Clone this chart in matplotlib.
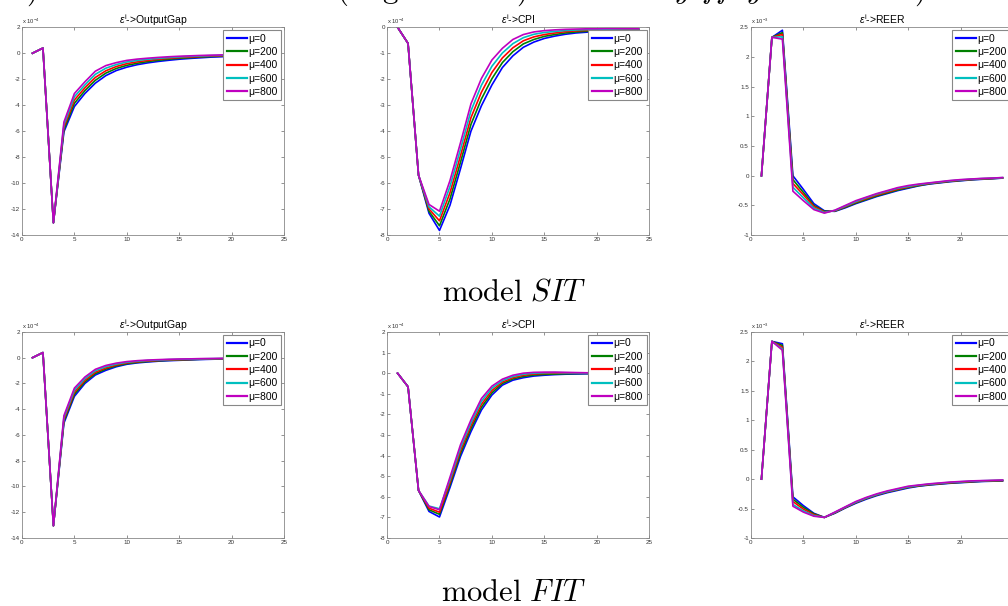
import numpy as np
import matplotlib
matplotlib.use('Agg')
import matplotlib.pyplot as plt

plt.rcParams['font.family'] = ['Liberation Sans', 'DejaVu Sans']
plt.rcParams['axes.unicode_minus'] = False
plt.rcParams['mathtext.fontset'] = 'custom'
plt.rcParams['mathtext.rm'] = 'Liberation Sans'
plt.rcParams['mathtext.it'] = 'Liberation Sans:italic'

periods = np.arange(1, 25)
mu_labels = ['\u03bc=0', '\u03bc=200', '\u03bc=400', '\u03bc=600', '\u03bc=800']
colors = ['b', 'g', 'r', 'c', 'm']

# model SIT, output gap (x 10^-4)
sit_gap = [
    [0, 0.4, -13.05, -6.05, -4.1, -3.1, -2.3, -1.72, -1.33, -1.07, -0.88, -0.74, -0.63, -0.54, -0.46, -0.40, -0.35, -0.30, -0.27, -0.23, -0.20, -0.18, -0.16, -0.14],
    [0, 0.4, -13.05, -5.87, -3.85, -2.88, -2.08, -1.53, -1.17, -0.93, -0.77, -0.64, -0.54, -0.46, -0.39, -0.34, -0.29, -0.25, -0.22, -0.19, -0.17, -0.15, -0.13, -0.12],
    [0, 0.4, -13.05, -5.68, -3.6, -2.66, -1.86, -1.35, -1.02, -0.80, -0.66, -0.55, -0.46, -0.39, -0.33, -0.29, -0.25, -0.21, -0.19, -0.16, -0.14, -0.13, -0.11, -0.10],
    [0, 0.4, -13.05, -5.49, -3.35, -2.44, -1.62, -1.15, -0.87, -0.67, -0.55, -0.46, -0.39, -0.33, -0.28, -0.24, -0.21, -0.18, -0.16, -0.14, -0.12, -0.11, -0.095, -0.085],
    [0, 0.4, -13.05, -5.3, -3.1, -2.2, -1.38, -0.95, -0.72, -0.55, -0.45, -0.38, -0.32, -0.27, -0.23, -0.20, -0.17, -0.15, -0.13, -0.11, -0.10, -0.09, -0.08, -0.07],
]
# model SIT, CPI (x 10^-4)
sit_cpi = [
    [0, -0.62, -5.69, -7.16, -7.82, -6.85, -5.45, -4.0, -3.02, -2.22, -1.55, -1.1, -0.77, -0.57, -0.43, -0.34, -0.27, -0.22, -0.19, -0.16, -0.14, -0.12, -0.11, -0.10],
    [0, -0.62, -5.69, -7.08, -7.64, -6.61, -5.2, -3.74, -2.76, -1.98, -1.36, -0.94, -0.64, -0.47, -0.35, -0.28, -0.22, -0.18, -0.155, -0.13, -0.115, -0.10, -0.09, -0.085],
    [0, -0.62, -5.69, -6.99, -7.45, -6.37, -4.95, -3.48, -2.5, -1.74, -1.18, -0.79, -0.52, -0.37, -0.28, -0.22, -0.17, -0.14, -0.12, -0.105, -0.09, -0.08, -0.075, -0.07],
    [0, -0.62, -5.69, -6.91, -7.27, -6.13, -4.7, -3.22, -2.23, -1.5, -0.99, -0.63, -0.4, -0.27, -0.2, -0.16, -0.125, -0.105, -0.09, -0.08, -0.07, -0.065, -0.06, -0.06],
    [0, -0.62, -5.69, -6.82, -7.08, -5.9, -4.45, -2.95, -1.97, -1.26, -0.81, -0.47, -0.28, -0.18, -0.13, -0.10, -0.08, -0.07, -0.06, -0.06, -0.05, -0.05, -0.05, -0.05],
]
# model SIT, REER (x 10^-3)
sit_reer = [
    [0, 2.33, 2.45, 0.0, -0.23, -0.47, -0.59, -0.60, -0.54, -0.47, -0.41, -0.35, -0.30, -0.25, -0.21, -0.17, -0.14, -0.12, -0.10, -0.085, -0.07, -0.06, -0.05, -0.04],
    [0, 2.33, 2.41, -0.065, -0.28, -0.5, -0.60, -0.595, -0.53, -0.46, -0.40, -0.34, -0.29, -0.24, -0.20, -0.165, -0.135, -0.115, -0.095, -0.08, -0.066, -0.056, -0.048, -0.038],
    [0, 2.33, 2.38, -0.13, -0.32, -0.52, -0.61, -0.59, -0.52, -0.445, -0.385, -0.325, -0.275, -0.225, -0.19, -0.155, -0.13, -0.11, -0.09, -0.075, -0.062, -0.052, -0.045, -0.035],
    [0, 2.33, 2.34, -0.195, -0.37, -0.545, -0.62, -0.585, -0.51, -0.435, -0.37, -0.31, -0.26, -0.21, -0.18, -0.148, -0.125, -0.105, -0.085, -0.07, -0.058, -0.048, -0.042, -0.032],
    [0, 2.33, 2.30, -0.26, -0.42, -0.57, -0.63, -0.58, -0.50, -0.42, -0.36, -0.30, -0.25, -0.20, -0.165, -0.14, -0.12, -0.10, -0.08, -0.065, -0.055, -0.045, -0.04, -0.03],
]
# model FIT, output gap (x 10^-4)
fit_gap = [
    [0, 0.4, -13.05, -5.08, -3.0, -2.0, -1.34, -0.98, -0.70, -0.51, -0.40, -0.33, -0.27, -0.23, -0.20, -0.17, -0.14, -0.12, -0.10, -0.08, -0.07, -0.06, -0.05, -0.04],
    [0, 0.4, -13.05, -4.93, -2.84, -1.87, -1.23, -0.88, -0.63, -0.46, -0.36, -0.29, -0.24, -0.20, -0.175, -0.15, -0.12, -0.105, -0.087, -0.07, -0.061, -0.052, -0.044, -0.035],
    [0, 0.4, -13.05, -4.79, -2.68, -1.75, -1.12, -0.79, -0.56, -0.40, -0.31, -0.255, -0.21, -0.175, -0.15, -0.13, -0.105, -0.09, -0.075, -0.06, -0.052, -0.045, -0.037, -0.03],
    [0, 0.4, -13.05, -4.64, -2.52, -1.62, -1.01, -0.69, -0.49, -0.35, -0.27, -0.215, -0.18, -0.145, -0.125, -0.11, -0.088, -0.075, -0.062, -0.05, -0.043, -0.037, -0.031, -0.025],
    [0, 0.4, -13.05, -4.5, -2.36, -1.5, -0.9, -0.6, -0.42, -0.3, -0.23, -0.18, -0.15, -0.12, -0.10, -0.09, -0.07, -0.06, -0.05, -0.04, -0.035, -0.03, -0.025, -0.02],
]
# model FIT, CPI (x 10^-4)
fit_cpi = [
    [0, -0.66, -5.69, -6.71, -6.98, -5.55, -4.05, -2.84, -1.79, -1.06, -0.58, -0.34, -0.22, -0.14, -0.10, -0.07, -0.05, -0.04, -0.03, -0.03, -0.02, -0.02, -0.02, -0.01],
    [0, -0.66, -5.69, -6.63, -6.85, -5.42, -3.9, -2.69, -1.65, -0.95, -0.50, -0.28, -0.16, -0.09, -0.06, -0.04, -0.03, -0.02, -0.015, -0.01, -0.01, -0.01, -0.005, 0.0],
    [0, -0.66, -5.69, -6.55, -6.75, -5.3, -3.76, -2.55, -1.51, -0.84, -0.43, -0.22, -0.10, -0.04, -0.01, 0.0, 0.0, 0.0, 0.0, 0.0, 0.0, 0.0, 0.0, 0.0],
    [0, -0.66, -5.69, -6.45, -6.58, -5.17, -3.62, -2.41, -1.37, -0.73, -0.36, -0.16, -0.05, 0.0, 0.02, 0.03, 0.02, 0.015, 0.01, 0.01, 0.01, 0.005, 0.005, 0.005],
    [0, -0.66, -5.69, -6.47, -6.63, -5.05, -3.48, -2.27, -1.23, -0.63, -0.29, -0.10, 0.0, 0.04, 0.05, 0.05, 0.04, 0.03, 0.02, 0.02, 0.01, 0.01, 0.01, 0.01],
]
# model FIT, REER (x 10^-3)
fit_reer = [
    [0, 2.34, 2.30, -0.30, -0.45, -0.58, -0.65, -0.58, -0.49, -0.41, -0.34, -0.28, -0.23, -0.19, -0.15, -0.12, -0.10, -0.085, -0.07, -0.06, -0.05, -0.04, -0.035, -0.03],
    [0, 2.34, 2.27, -0.34, -0.48, -0.59, -0.65, -0.575, -0.485, -0.40, -0.33, -0.27, -0.22, -0.18, -0.14, -0.115, -0.095, -0.08, -0.065, -0.055, -0.045, -0.036, -0.031, -0.026],
    [0, 2.34, 2.24, -0.38, -0.51, -0.605, -0.65, -0.57, -0.48, -0.395, -0.325, -0.265, -0.215, -0.175, -0.135, -0.11, -0.09, -0.075, -0.06, -0.05, -0.04, -0.032, -0.027, -0.022],
    [0, 2.34, 2.21, -0.43, -0.54, -0.62, -0.65, -0.565, -0.475, -0.39, -0.32, -0.26, -0.21, -0.17, -0.13, -0.105, -0.085, -0.07, -0.055, -0.045, -0.035, -0.028, -0.023, -0.018],
    [0, 2.34, 2.19, -0.46, -0.56, -0.63, -0.65, -0.56, -0.47, -0.38, -0.31, -0.25, -0.20, -0.16, -0.12, -0.10, -0.08, -0.065, -0.05, -0.04, -0.03, -0.025, -0.02, -0.015],
]

titles = [r'$\varepsilon^{\rm i}$->OutputGap', r'$\varepsilon^{\rm i}$->CPI', r'$\varepsilon^{\rm i}$->REER']
scales = ['x 10$^{-4}$', 'x 10$^{-4}$', 'x 10$^{-3}$']
ylims_sit = [(-14, 2), (-8, 0), (-1, 2.5)]
ylims_fit = [(-14, 2), (-8, 2), (-1, 2.5)]
ysteps = [2, 1, 0.5]

fig = plt.figure(figsize=(10.08, 6.06), dpi=100)

lefts = [0.0218, 0.384, 0.745]
rows = [(0.612, 0.343, [sit_gap, sit_cpi, sit_reer], ylims_sit),
        (0.1122, 0.340, [fit_gap, fit_cpi, fit_reer], ylims_fit)]

for bottom, height, panels, ylims in rows:
    for j in range(3):
        ax = fig.add_axes([lefts[j], bottom, 0.26, height])
        for k in range(5):
            ax.plot(periods, panels[j][k], color=colors[k], lw=1.2, label=mu_labels[k])
        ax.set_xlim(0, 25)
        ax.set_ylim(*ylims[j])
        ax.set_xticks(np.arange(0, 26, 5))
        yt = np.arange(ylims[j][0], ylims[j][1] + 1e-9, ysteps[j])
        ax.set_yticks(yt)
        ax.set_yticklabels(['%g' % v for v in yt])
        ax.tick_params(direction='in', length=2.5, width=0.5, labelsize=4.5,
                       top=True, right=True, pad=1.5, colors='#666666', labelcolor='#333333')
        for s in ax.spines.values():
            s.set_linewidth(0.6)
            s.set_color('#888888')
        ax.set_title(titles[j], fontsize=7.5, pad=2)
        ax.text(0.0, 1.005, scales[j], transform=ax.transAxes, fontsize=4.2,
                ha='left', va='bottom', color='#333333')
        leg = ax.legend(loc='upper right', fontsize=7.5, handlelength=2.0,
                        handletextpad=0.1, labelspacing=0.32, borderaxespad=0.25,
                        borderpad=0.35, fancybox=False, framealpha=1)
        leg.get_frame().set_edgecolor('#888888')
        leg.get_frame().set_linewidth(0.8)
        for h in leg.get_lines():
            h.set_linewidth(1.6)

fig.text(0.51, 0.518, r'$\mathrm{model}\ SIT$', fontsize=22, ha='center', va='center',
         math_fontfamily='cm')
fig.text(0.51, 0.022, r'$\mathrm{model}\ FIT$', fontsize=22, ha='center', va='center',
         math_fontfamily='cm')

# bottom of a caption line cut off at the top of the page
top_chars = [')', '(', 'g', ')', 'y', 'ff', 'y', ')']
top_x = [32, 343, 390, 522, 683, 718, 755, 920]
for ch, xp in zip(top_chars, top_x):
    label = '$' + ch + '$' if ch[0] in 'yf' else ch
    fig.text(xp / 1008, 1.003, label, fontsize=22,
             ha='center', va='baseline', family='cmr10', math_fontfamily='cm')

fig.savefig('out.png', dpi=100)
